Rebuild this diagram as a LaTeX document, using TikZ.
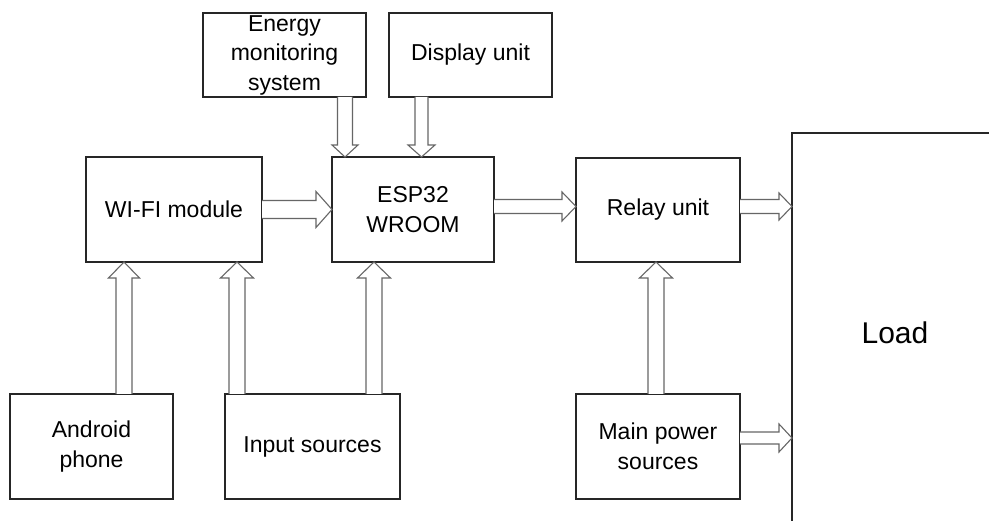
\documentclass[tikz,border=0pt]{standalone}
\usepackage{fontspec}
\setmainfont{Liberation Sans}
\usetikzlibrary{calc}
\tikzset{
  box/.style={draw=black!85, line width=1.1pt, fill=white, inner sep=0pt, outer sep=0pt,
    align=center, font=\fontsize{23}{29.5}\selectfont},
  arrowline/.style={draw=black!60, line width=1.1pt, fill=white, line join=miter}
}
% #1 start, #2 tip, (#3,#4) unit vector from tip backwards, #5 shaft half width, #6 head half width, #7 head length
\newcommand\barr[7]{%
  \draw[arrowline]
    ($(#1)+({-(#5)*(#4)},{(#5)*(#3)})$) --
    ($(#2)+({(#7)*(#3)-(#5)*(#4)},{(#7)*(#4)+(#5)*(#3)})$) --
    ($(#2)+({(#7)*(#3)-(#6)*(#4)},{(#7)*(#4)+(#6)*(#3)})$) --
    (#2) --
    ($(#2)+({(#7)*(#3)+(#6)*(#4)},{(#7)*(#4)-(#6)*(#3)})$) --
    ($(#2)+({(#7)*(#3)+(#5)*(#4)},{(#7)*(#4)-(#5)*(#3)})$) --
    ($(#1)+({(#5)*(#4)},{-(#5)*(#3)})$);}
\begin{document}
\begin{tikzpicture}[x=1pt,y=-1pt]
\useasboundingbox (0,0) rectangle (989,521);
\fill[white] (0,0) rectangle (989,521);

\node[box, minimum width=163, minimum height=84] (energy) at (284.5,55) {Energy\\monitoring\\system};
\node[box, minimum width=163, minimum height=84] (display) at (470.5,55) {Display unit};
\node[box, minimum width=176, minimum height=105] (wifi) at (174,209.5) {WI-FI module};
\node[box, minimum width=162, minimum height=105] (esp) at (413,209.5) {ESP32\\WROOM};
\node[box, minimum width=164, minimum height=104] (relay) at (658,210) {Relay unit};
\node[box, minimum width=163, minimum height=105] (android) at (91.5,446.5) {Android\\phone};
\node[box, minimum width=175, minimum height=105] (input) at (312.5,446.5) {Input sources};
\node[box, minimum width=164, minimum height=105] (main) at (658,446.5) {Main power\\sources};
\node[box, minimum width=206, minimum height=400, font=\fontsize{30}{36}\selectfont] (load) at (895,333) {Load};

% arrows
\coordinate (s1) at ($(energy.south west)+(142,0)$);
\coordinate (t1) at ($(esp.north west)+(13,0)$);
\barr{s1}{t1}{0}{-1}{7.5}{13}{12}

\coordinate (s2) at ($(display.south west)+(32.5,0)$);
\coordinate (t2) at ($(esp.north west)+(89.5,0)$);
\barr{s2}{t2}{0}{-1}{6.5}{13.5}{12}

\barr{wifi.east}{esp.west}{-1}{0}{9}{18}{16}

\coordinate (s4) at ($(esp.east)+(0,-3)$);
\coordinate (t4) at (relay.west |- s4);
\barr{s4}{t4}{-1}{0}{7}{14.5}{14}

\coordinate (s5) at ($(relay.east)+(0,-3.5)$);
\coordinate (t5) at (load.west |- s5);
\barr{s5}{t5}{-1}{0}{7}{13.5}{13}

\coordinate (s6) at ($(main.east)+(0,-8.5)$);
\coordinate (t6) at (load.west |- s6);
\barr{s6}{t6}{-1}{0}{6}{14}{13}

\coordinate (s7) at ($(android.north west)+(114,0)$);
\coordinate (t7) at ($(wifi.south west)+(38,0)$);
\barr{s7}{t7}{0}{1}{8}{15.5}{16}

\coordinate (s8) at ($(input.north west)+(12,0)$);
\coordinate (t8) at ($(wifi.south west)+(151,0)$);
\barr{s8}{t8}{0}{1}{8}{16.5}{16}

\coordinate (s9) at ($(input.north west)+(149,0)$);
\coordinate (t9) at ($(esp.south west)+(42,0)$);
\barr{s9}{t9}{0}{1}{8}{16.5}{16}

\coordinate (s10) at ($(main.north west)+(80,0)$);
\coordinate (t10) at ($(relay.south west)+(80,0)$);
\barr{s10}{t10}{0}{1}{8}{16.5}{16}
\end{tikzpicture}
\end{document}
